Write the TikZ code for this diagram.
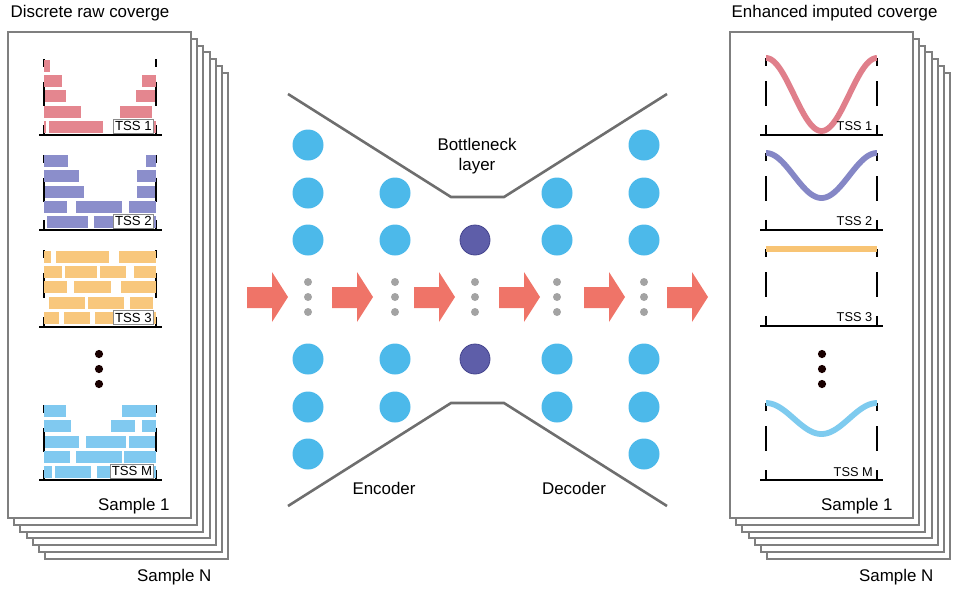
\documentclass[tikz,border=0pt]{standalone}
\usepackage{fontspec}
\setmainfont{Liberation Sans}
\definecolor{sheet}{HTML}{7F7F7F}
\definecolor{pinkc}{HTML}{E4868F}
\definecolor{purpc}{HTML}{8B8ECB}
\definecolor{orgc}{HTML}{F8C77C}
\definecolor{bluec}{HTML}{80C9F0}
\definecolor{pinkr}{HTML}{E07F8B}
\definecolor{purpr}{HTML}{8587C6}
\definecolor{orgr}{HTML}{F8C474}
\definecolor{bluer}{HTML}{7ECBEF}
\definecolor{nodeblue}{HTML}{4CB9EA}
\definecolor{nodedark}{HTML}{5E5EA9}
\definecolor{nodedarkedge}{HTML}{45458E}
\definecolor{arrowc}{HTML}{EF7468}
\definecolor{trap}{HTML}{6E6E6E}
\definecolor{dotg}{HTML}{A3A3A3}
\definecolor{boxedge}{HTML}{8A8A8A}
\newcommand\tdash[3]{%
 \pgfmathsetmacro\hh{#3-#2}%
 \draw[tickline] (#1,#2) -- (#1,#2+0.11*\hh);
 \draw[tickline] (#1,#2+0.3*\hh) -- (#1,#2+0.62*\hh);
 \draw[tickline] (#1,#2+0.87*\hh) -- (#1,#3);}
\begin{document}
\begin{tikzpicture}[x=1pt,y=-1pt,
  sheetline/.style={draw=sheet,line width=2pt,fill=white},
  axisline/.style={black,line width=2.4pt},
  tickline/.style={black,line width=2pt},
  bigtext/.style={font=\fontsize{16.9pt}{20pt}\selectfont,inner sep=0pt},
  tsslabel/.style={font=\fontsize{13.2pt}{14pt}\selectfont,draw=boxedge,line width=0.6pt,fill=white,inner xsep=1.5pt,inner ysep=0.6pt,minimum height=14pt,anchor=east},
  tsstext/.style={font=\fontsize{12.8pt}{14pt}\selectfont,inner sep=0pt,anchor=east},
  curve/.style={line width=5.8pt},
  nb/.style={circle,fill=nodeblue,minimum size=31pt,inner sep=0pt},
  nd/.style={circle,fill=nodedark,draw=nodedarkedge,line width=0.8pt,minimum size=30pt,inner sep=0pt},
  gdot/.style={circle,fill=dotg,minimum size=8pt,inner sep=0pt},
  kdot/.style={circle,fill=black!90!red,minimum size=8.2pt,inner sep=0pt},
  trapline/.style={draw=trap,line width=2.6pt,line join=miter},
  fatarrow/.style={fill=arrowc}]
\useasboundingbox (0,0) rectangle (957,590);

% ---------- left stack ----------
\foreach \i in {6,5,...,0} {
  \draw[sheetline] ({8+6.2*\i},{32+6.75*\i}) rectangle ({191+6.2*\i},{518+6.8*\i});
}
\node[bigtext,anchor=base west] (tleft) at (10.5,17.5) {Discrete raw coverge};
\node[bigtext,anchor=base west] (s1l) at (98,510) {Sample 1};
\node[bigtext,anchor=base west] (snl) at (137,581) {Sample N};

% dashed boundaries
\tdash{44}{59}{135}\tdash{156}{59}{135}
\tdash{44}{155}{230}\tdash{156}{155}{230}
\tdash{44}{250}{327}\tdash{156}{250}{327}
\tdash{44}{405}{480}\tdash{156}{405}{480}

% track 1 bars
\foreach \y/\a/\b in {59.5/44/50, 75/44/62, 75/142/156, 90.3/45/66, 90.3/136/155,
  105.6/44/81, 105.6/120/152, 121/44/46, 121/49/103, 121/150/156}
  \fill[pinkc] (\a,\y) rectangle (\b,\y+12);
% track 2 bars
\foreach \y/\a/\b in {155/44/68, 155/146/156, 170/44/79, 170/137/156, 186/45/84, 186/137/155,
  201/44/67, 201/76/122, 201/129/156, 216/47/88, 216/94/115, 216/150/156}
  \fill[purpc] (\a,\y) rectangle (\b,\y+12);
% track 3 bars
\foreach \y/\a/\b in {250.5/44/51, 250.5/56/109, 250.5/119/156,
  266/44/62, 266/65/97, 266/100/126, 266/134/156,
  281/44/67, 281/74/111, 281/121/156,
  297/49/85, 297/88/124, 297/130/153,
  312/44/59, 312/64/90, 312/95/115, 312/150/156}
  \fill[orgc] (\a,\y) rectangle (\b,\y+12);
% track M bars
\foreach \y/\a/\b in {405/44/66, 405/122/156,
  420/44/71, 420/111/135, 420/142/156,
  436/45/79, 436/86/126, 436/129/155,
  451/44/70, 451/76/122, 451/124/156,
  466/44/52, 466/55/91, 466/97/111, 466/150/156}
  \fill[bluec] (\a,\y) rectangle (\b,\y+12);

% axes
\draw[axisline] (39,135) -- (162,135);
\draw[axisline] (39,230) -- (162,230);
\draw[axisline] (39,327) -- (162,327);
\draw[axisline] (39,480) -- (162,480);
% labels
\node[tsslabel] (l1) at (153.5,126) {TSS 1};
\node[tsslabel] (l2) at (153.5,221) {TSS 2};
\node[tsslabel] (l3) at (153.5,317.5) {TSS 3};
\node[tsslabel] (lm) at (154,471) {TSS M};
% dots
\node[kdot] (ldot1) at (99,354) {};
\node[kdot] (ldot2) at (99,369) {};
\node[kdot] (ldot3) at (99,384) {};

% ---------- right stack ----------
\foreach \i in {6,5,...,0} {
  \draw[sheetline] ({730+6.2*\i},{32+6.75*\i}) rectangle ({913+6.2*\i},{518+6.8*\i});
}
\node[bigtext,anchor=base west] (tright) at (731.5,17.5) {Enhanced imputed coverge};
\node[bigtext,anchor=base west] (s1r) at (821,510) {Sample 1};
\node[bigtext,anchor=base west] (snr) at (859,581) {Sample N};

\tdash{766}{58}{135}\tdash{877}{58}{135}
\tdash{766}{153}{230}\tdash{877}{153}{230}
\tdash{766}{249}{326}\tdash{877}{249}{326}
\tdash{766}{403}{480}\tdash{877}{403}{480}

\draw[curve,pinkr] plot[domain=0:1,samples=80,smooth] ({766+111*\x},{58+73*(1-cos(360*\x))/2});
\draw[curve,purpr] plot[domain=0:1,samples=80,smooth] ({766+111*\x},{153+45*(1-cos(360*\x))/2});
\draw[curve,orgr] (766,249) -- (877,249);
\draw[curve,bluer] plot[domain=0:1,samples=80,smooth] ({766+111*\x},{403+31*(1-cos(360*\x))/2});

\draw[axisline] (760,135) -- (883,135);
\draw[axisline] (760,230) -- (883,230);
\draw[axisline] (760,326) -- (883,326);
\draw[axisline] (760,480) -- (883,480);
\node[tsstext] (r1) at (872.5,126) {TSS 1};
\node[tsstext] (r2) at (872.5,221) {TSS 2};
\node[tsstext] (r3) at (872.5,317) {TSS 3};
\node[tsstext] (rm) at (873,472.5) {TSS M};
\node[kdot] (rdot1) at (822,354) {};
\node[kdot] (rdot2) at (822,369) {};
\node[kdot] (rdot3) at (822,384) {};

% ---------- autoencoder ----------
\coordinate (t1) at (288,94);  \coordinate (t2) at (451,197);
\coordinate (t3) at (504,197); \coordinate (t4) at (667,94);
\coordinate (b1) at (288,506); \coordinate (b2) at (451,403);
\coordinate (b3) at (504,403); \coordinate (b4) at (667,506);
\draw[trapline] (t1) -- (t2) -- (t3) -- (t4);
\draw[trapline] (b1) -- (b2) -- (b3) -- (b4);

\node[bigtext,align=center] (bott) at (477,156) {Bottleneck\\layer};
\node[bigtext,anchor=base] (enc) at (384,494) {Encoder};
\node[bigtext,anchor=base] (dec) at (574,494) {Decoder};

% layer 1
\foreach \y [count=\k] in {145,193,240,359,407,454} \node[nb] (a\k) at (308,\y) {};
% layer 2
\foreach \y [count=\k] in {193,240,359,407} \node[nb] (b\k) at (395,\y) {};
% bottleneck
\node[nd] (c1) at (475,240) {};
\node[nd] (c2) at (475,359) {};
% layer 4
\foreach \y [count=\k] in {193,240,359,407} \node[nb] (d\k) at (557,\y) {};
% layer 5
\foreach \y [count=\k] in {145,193,240,359,407,454} \node[nb] (e\k) at (644,\y) {};

% grey dots
\foreach \x [count=\k] in {308,395,475,557,644} {
  \node[gdot] (g\k a) at (\x,282) {};
  \node[gdot] (g\k b) at (\x,297) {};
  \node[gdot] (g\k c) at (\x,312) {};
}
% fat arrows
\foreach \s in {247,332,414,499,584,667}
  \fill[fatarrow] (\s,287) -- (\s+25,287) -- (\s+25,272) -- (\s+41,297) -- (\s+25,322) -- (\s+25,308) -- (\s,308) -- cycle;
\end{tikzpicture}
\end{document}
